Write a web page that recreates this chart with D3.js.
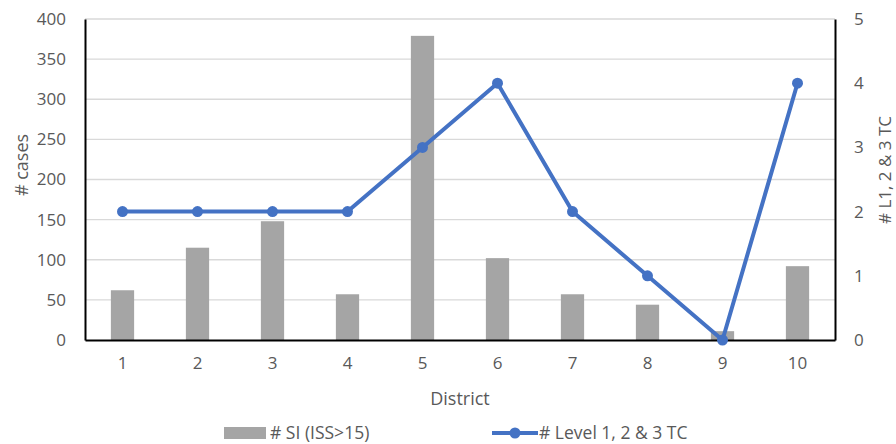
<!DOCTYPE html>
<html>
<head>
<meta charset="utf-8">
<script src="https://cdn.jsdelivr.net/npm/d3@7"></script>
<style>
  html, body { margin: 0; padding: 0; background: #fff; }
  svg { display: block; }
  text { font-family: "Open Sans", "Liberation Sans", sans-serif; fill: #595959; }
</style>
</head>
<body>
<svg id="chart" width="896" height="444"></svg>
<script>
// District categories and the two series
const districts = ["1", "2", "3", "4", "5", "6", "7", "8", "9", "10"];
const siCases = [62, 115, 148, 57, 379, 102, 57, 44, 11, 92];
const traumaCentres = [2, 2, 2, 2, 3, 4, 2, 1, 0, 4];
const leftTicks = [0, 50, 100, 150, 200, 250, 300, 350, 400];
const rightTicks = [0, 1, 2, 3, 4, 5];
const seriesNames = ["# SI (ISS>15)", "# Level 1, 2 & 3 TC"];

const svg = d3.select("#chart");
const plot = { left: 85, right: 835, top: 19, bottom: 340 };
const barColor = "#a5a5a5";
const lineColor = "#4472c4";

const x = d3.scaleBand()
  .domain(districts)
  .range([plot.left, plot.right])
  .paddingInner(0.69)
  .paddingOuter(0.345);

const yLeft = d3.scaleLinear().domain([0, 400]).range([plot.bottom, plot.top]);
const yRight = d3.scaleLinear().domain([0, 5]).range([plot.bottom, plot.top]);

// Horizontal gridlines
svg.append("g")
  .selectAll("line")
  .data(leftTicks.filter(d => d > 0))
  .join("line")
  .attr("x1", plot.left).attr("x2", plot.right)
  .attr("y1", d => yLeft(d)).attr("y2", d => yLeft(d))
  .attr("stroke", "#d9d9d9").attr("stroke-width", 1.3);

// Bars: serious injury cases
svg.append("g")
  .selectAll("rect")
  .data(districts.map((d, i) => ({ d, v: siCases[i] })))
  .join("rect")
  .attr("x", p => x(p.d))
  .attr("width", x.bandwidth())
  .attr("y", p => yLeft(p.v))
  .attr("height", p => plot.bottom - yLeft(p.v))
  .attr("fill", barColor);

// Axes
const leftAxis = d3.axisLeft(yLeft).tickValues(leftTicks).tickSize(0).tickPadding(19);
const rightAxis = d3.axisRight(yRight).tickValues(rightTicks).tickFormat(d3.format("d")).tickSize(0).tickPadding(19);
const bottomAxis = d3.axisBottom(x).tickSize(0).tickPadding(17);

function styleAxis(g) {
  g.select(".domain").attr("stroke", "#000").attr("stroke-width", 2);
  g.selectAll("text").attr("font-size", 17).attr("fill", "#595959")
    .attr("font-family", "\"Open Sans\", sans-serif");
}

svg.append("g").attr("transform", `translate(${plot.left},0)`).call(leftAxis).call(styleAxis);
svg.append("g").attr("transform", `translate(${plot.right},0)`).call(rightAxis).call(styleAxis);
svg.append("g").attr("transform", `translate(0,${plot.bottom})`).call(bottomAxis).call(styleAxis);

// Line: trauma centres
const cx = d => x(d) + x.bandwidth() / 2;
const pts = districts.map((d, i) => [cx(d), yRight(traumaCentres[i])]);
svg.append("path")
  .attr("d", d3.line()(pts))
  .attr("fill", "none")
  .attr("stroke", lineColor)
  .attr("stroke-width", 4)
  .attr("stroke-linejoin", "round");
svg.append("g")
  .selectAll("circle")
  .data(pts)
  .join("circle")
  .attr("cx", p => p[0]).attr("cy", p => p[1]).attr("r", 5.5)
  .attr("fill", lineColor);

// Axis titles
svg.append("text")
  .attr("transform", "translate(28,165) rotate(-90)")
  .attr("text-anchor", "middle").attr("font-size", 18)
  .text("# cases");
svg.append("text")
  .attr("transform", "translate(891,170) rotate(-90)")
  .attr("text-anchor", "middle").attr("font-size", 17)
  .text("# L1, 2 & 3 TC");
svg.append("text")
  .attr("x", (plot.left + plot.right) / 2).attr("y", 405)
  .attr("text-anchor", "middle").attr("font-size", 18)
  .text("District");

// Legend
const legend = svg.append("g");
legend.append("rect").attr("x", 224).attr("y", 427).attr("width", 42).attr("height", 12).attr("fill", barColor);
legend.append("text").attr("x", 270).attr("y", 439).attr("font-size", 17.5).text(seriesNames[0]);
legend.append("line").attr("x1", 492).attr("x2", 538).attr("y1", 433).attr("y2", 433)
  .attr("stroke", lineColor).attr("stroke-width", 4);
legend.append("circle").attr("cx", 515).attr("cy", 433).attr("r", 5.5).attr("fill", lineColor);
legend.append("text").attr("x", 539).attr("y", 439).attr("font-size", 17.5).text(seriesNames[1]);
</script>
</body>
</html>
